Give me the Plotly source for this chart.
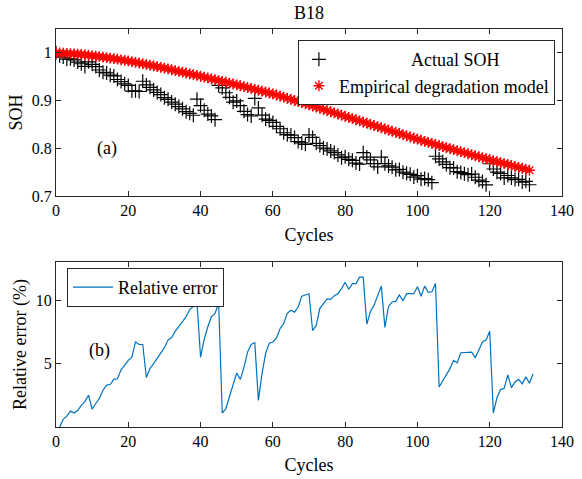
import plotly.graph_objects as go

# ---------------- data ----------------
cycles_soh = list(range(0, 132))
actual_soh = [
    1.0000, 0.9938, 0.9911, 0.9868, 0.9877, 0.9852, 0.9807, 0.9772, 0.9716, 0.9813,
    0.9760, 0.9713, 0.9641, 0.9594, 0.9579, 0.9532, 0.9516, 0.9442, 0.9399, 0.9352,
    0.9318, 0.9200, 0.9204, 0.9190, 0.9405, 0.9328, 0.9278, 0.9224, 0.9170, 0.9125,
    0.9060, 0.9027, 0.8969, 0.8924, 0.8875, 0.8827, 0.8767, 0.8732, 0.8692, 0.9030,
    0.8896, 0.8797, 0.8716, 0.8679, 0.8600, 0.9318, 0.9268, 0.9164, 0.9067, 0.8967,
    0.8993, 0.8893, 0.8774, 0.8707, 0.8677, 0.9045, 0.8845, 0.8693, 0.8610, 0.8584,
    0.8542, 0.8461, 0.8409, 0.8326, 0.8286, 0.8276, 0.8225, 0.8141, 0.8112, 0.8084,
    0.8281, 0.8228, 0.8104, 0.8057, 0.8006, 0.7987, 0.7944, 0.7911, 0.7861, 0.7804,
    0.7821, 0.7768, 0.7747, 0.7690, 0.7669, 0.7909, 0.7815, 0.7757, 0.7679, 0.7609,
    0.7816, 0.7677, 0.7630, 0.7605, 0.7549, 0.7558, 0.7499, 0.7477, 0.7455, 0.7397,
    0.7425, 0.7352, 0.7365, 0.7342, 0.7279, 0.7833, 0.7778, 0.7716, 0.7662, 0.7593,
    0.7587, 0.7510, 0.7490, 0.7467, 0.7447, 0.7459, 0.7393, 0.7332, 0.7302, 0.7235,
    0.7676, 0.7566, 0.7499, 0.7472, 0.7378, 0.7430, 0.7378, 0.7345, 0.7350, 0.7292,
    0.7308, 0.7236,
]
model_soh = [
    1.0000, 0.9998, 0.9995, 0.9991, 0.9986, 0.9980, 0.9974, 0.9967, 0.9959, 0.9950,
    0.9940, 0.9931, 0.9921, 0.9911, 0.9900, 0.9889, 0.9878, 0.9867, 0.9855, 0.9843,
    0.9830, 0.9816, 0.9802, 0.9787, 0.9772, 0.9757, 0.9742, 0.9727, 0.9711, 0.9695,
    0.9680, 0.9663, 0.9646, 0.9629, 0.9612, 0.9595, 0.9578, 0.9561, 0.9544, 0.9527,
    0.9510, 0.9492, 0.9474, 0.9456, 0.9438, 0.9420, 0.9402, 0.9384, 0.9366, 0.9348,
    0.9330, 0.9311, 0.9292, 0.9273, 0.9254, 0.9235, 0.9216, 0.9197, 0.9178, 0.9159,
    0.9140, 0.9117, 0.9094, 0.9071, 0.9048, 0.9025, 0.9002, 0.8979, 0.8956, 0.8933,
    0.8910, 0.8886, 0.8862, 0.8838, 0.8814, 0.8790, 0.8766, 0.8742, 0.8718, 0.8694,
    0.8670, 0.8646, 0.8622, 0.8598, 0.8574, 0.8550, 0.8526, 0.8502, 0.8478, 0.8454,
    0.8430, 0.8406, 0.8382, 0.8358, 0.8334, 0.8310, 0.8286, 0.8262, 0.8238, 0.8214,
    0.8190, 0.8168, 0.8146, 0.8124, 0.8102, 0.8080, 0.8058, 0.8036, 0.8014, 0.7992,
    0.7970, 0.7949, 0.7928, 0.7907, 0.7886, 0.7865, 0.7844, 0.7823, 0.7802, 0.7781,
    0.7760, 0.7740, 0.7720, 0.7700, 0.7680, 0.7660, 0.7640, 0.7620, 0.7600, 0.7580,
    0.7560, 0.7540,
]
cycles_err = list(range(1, 133))
relative_error = [
    0.0, 0.6, 0.85, 1.25, 1.1, 1.3, 1.7, 2.0, 2.5, 1.4,
    1.85, 2.25, 2.9, 3.3, 3.35, 3.75, 3.8, 4.5, 4.85, 5.25,
    5.5, 6.7, 6.5, 6.5, 3.9, 4.6, 5.0, 5.45, 5.9, 6.25,
    6.85, 7.05, 7.55, 7.9, 8.3, 8.7, 9.25, 9.5, 9.8, 5.5,
    6.9, 7.9, 8.7, 8.95, 9.75, 1.1, 1.45, 2.4, 3.3, 4.25,
    3.75, 4.7, 5.9, 6.5, 6.65, 2.1, 4.2, 5.8, 6.6, 6.7,
    7.0, 7.75, 8.15, 8.95, 9.2, 9.05, 9.45, 10.3, 10.4, 10.5,
    7.6, 8.0, 9.35, 9.7, 10.1, 10.05, 10.35, 10.5, 10.9, 11.4,
    10.85, 11.3, 11.3, 11.8, 11.8, 8.1, 9.1, 9.6, 10.4, 11.1,
    7.85, 9.5, 9.85, 9.9, 10.4, 9.95, 10.5, 10.5, 10.5, 11.05,
    10.3, 11.1, 10.6, 10.65, 11.3, 3.15, 3.6, 4.15, 4.6, 5.25,
    5.05, 5.85, 5.85, 5.9, 5.9, 5.45, 6.1, 6.7, 6.85, 7.55,
    1.1, 2.3, 2.95, 3.05, 4.1, 3.1, 3.55, 3.75, 3.4, 3.95,
    3.45, 4.2,
]
x_ticks = [0, 20, 40, 60, 80, 100, 120, 140]
soh_ticks = [0.7, 0.8, 0.9, 1.0]
soh_tick_labels = ["0.7", "0.8", "0.9", "1"]
err_ticks = [5, 10]

FONT = "Liberation Serif"
AX = "#262626"
TICK_SIZE = 16
LABEL_SIZE = 18

fig = go.Figure()

fig.add_trace(go.Scatter(
    x=cycles_soh, y=actual_soh, mode="markers",
    name="\u00a0" * 16 + "Actual SOH",
    marker=dict(symbol="cross-thin-open", size=10, color="black",
                line=dict(color="black", width=1.2)),
    xaxis="x", yaxis="y", legend="legend",
))
fig.add_trace(go.Scatter(
    x=cycles_soh, y=model_soh, mode="markers",
    name="Empirical degradation model",
    marker=dict(symbol="asterisk-open", size=9, color="red",
                line=dict(color="red", width=1.4)),
    xaxis="x", yaxis="y", legend="legend",
))
fig.add_trace(go.Scatter(
    x=cycles_err, y=relative_error, mode="lines",
    name="Relative error",
    line=dict(color="#0072BD", width=1.2),
    xaxis="x2", yaxis="y2", legend="legend2",
))

axis_common = dict(
    showline=True, linecolor=AX, linewidth=1, mirror="ticks",
    ticks="inside", ticklen=5, tickcolor=AX, tickwidth=1,
    showgrid=False, zeroline=False, automargin=False,
    tickfont=dict(family=FONT, size=TICK_SIZE, color="black"),
)
title_font = dict(family=FONT, size=LABEL_SIZE, color="black")

fig.update_layout(
    width=582, height=479,
    margin=dict(l=56, r=20, t=29, b=52),
    paper_bgcolor="white", plot_bgcolor="white",
    font=dict(family=FONT, size=16, color="black"),
    showlegend=True,
    xaxis=dict(domain=[0, 1], anchor="y", range=[0, 140], tickvals=x_ticks,
               title=dict(text="Cycles", font=title_font, standoff=10),
               **axis_common),
    yaxis=dict(domain=[0.5804, 1.0], anchor="x", range=[0.7, 1.05],
               tickvals=soh_ticks, ticktext=soh_tick_labels,
               title=dict(text="SOH", font=title_font, standoff=4),
               **axis_common),
    xaxis2=dict(domain=[0, 1], anchor="y2", range=[0, 140], tickvals=x_ticks,
                title=dict(text="Cycles", font=title_font, standoff=9),
                **axis_common),
    yaxis2=dict(domain=[0, 0.4146], anchor="x2", range=[0, 13],
                tickvals=err_ticks,
                title=dict(text="Relative error (%)", font=title_font, standoff=4),
                **axis_common),
    legend=dict(x=0.986, y=0.972, xanchor="right", yanchor="top",
                bgcolor="white", bordercolor=AX, borderwidth=1,
                font=dict(family=FONT, size=LABEL_SIZE, color="black"),
                itemwidth=30, tracegroupgap=0),
    legend2=dict(x=0.0217, y=0.3995, xanchor="left", yanchor="top",
                 bgcolor="white", bordercolor=AX, borderwidth=1,
                 font=dict(family=FONT, size=LABEL_SIZE, color="black"),
                 itemwidth=40),
    annotations=[
        dict(text="B18", x=0.5, y=1, xref="paper", yref="paper",
             xanchor="center", yanchor="bottom", yshift=4, showarrow=False,
             font=dict(family=FONT, size=18, color="black")),
        dict(text="(a)", x=14, y=0.80, xref="x", yref="y",
             showarrow=False, font=dict(family=FONT, size=18, color="black")),
        dict(text="(b)", x=12, y=6.0, xref="x2", yref="y2",
             showarrow=False, font=dict(family=FONT, size=18, color="black")),
    ],
)

fig.write_html("out.html")
